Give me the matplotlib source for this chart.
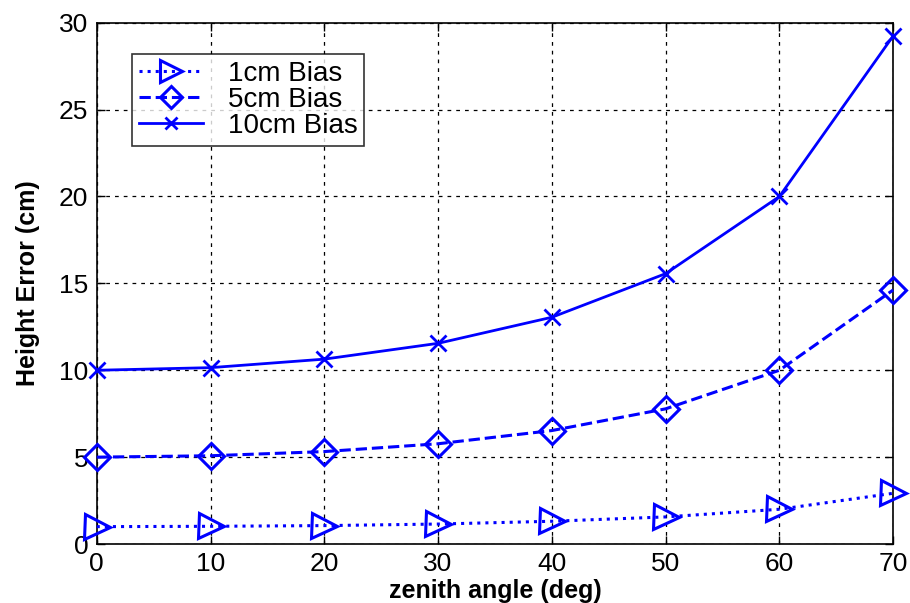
import numpy as np
import matplotlib
matplotlib.use("Agg")
import matplotlib.pyplot as plt

# data
zenith = [0, 10, 20, 30, 40, 50, 60, 70]
err_1cm = [1.0, 1.02, 1.06, 1.15, 1.31, 1.56, 2.0, 2.92]
err_5cm = [5.0, 5.08, 5.32, 5.77, 6.53, 7.78, 10.0, 14.62]
err_10cm = [10.0, 10.15, 10.64, 11.55, 13.05, 15.56, 20.0, 29.24]
labels = ["1cm Bias", "5cm Bias", "10cm Bias"]

plt.rcParams['font.family'] = ['Liberation Sans', 'DejaVu Sans']

fig = plt.figure(figsize=(9.1, 6.03), dpi=100)
ax = fig.add_axes([0.1063, 0.0978, 0.8752, 0.8645])

blue = (0, 0, 1)
ax.plot(zenith, err_1cm, linestyle=':', color=blue, lw=2.2, marker='>',
        ms=18, mfc='none', mew=2.2, label=labels[0], clip_on=False, zorder=5)
ax.plot(zenith, err_5cm, linestyle='--', color=blue, lw=2.2, marker='D',
        ms=13, mfc='none', mew=2.2, label=labels[1], clip_on=False, zorder=5)
ax.plot(zenith, err_10cm, linestyle='-', color=blue, lw=2.0, marker='x',
        ms=11, mew=2.0, label=labels[2], clip_on=False, zorder=5)

ax.set_xlim(0, 70)
ax.set_ylim(0, 30)
ax.set_xticks(range(0, 71, 10))
ax.set_yticks(range(0, 31, 5))
ax.grid(True, color='black', linestyle=(0, (3, 4)), lw=0.9)
ax.tick_params(direction='in', length=6, width=1, top=True, right=True,
               labelsize=19, pad=6)
for s in ax.spines.values():
    s.set_linewidth(1.2)

ax.set_xlabel("zenith angle (deg)", fontsize=18, fontweight='bold', labelpad=2)
ax.set_ylabel("Height Error (cm)", fontsize=18, fontweight='bold', labelpad=14)

leg = ax.legend(loc='upper left', bbox_to_anchor=(0.044, 0.94), fontsize=20,
                frameon=True, fancybox=False, edgecolor='black',
                handlelength=2.3, borderpad=0.25, labelspacing=0.0,
                handletextpad=0.9, borderaxespad=0)
leg.get_frame().set_linewidth(1.2)
for h in leg.legend_handles:
    h.set_markersize(h.get_markersize() * 0.85)

fig.savefig("out.png", dpi=100)
